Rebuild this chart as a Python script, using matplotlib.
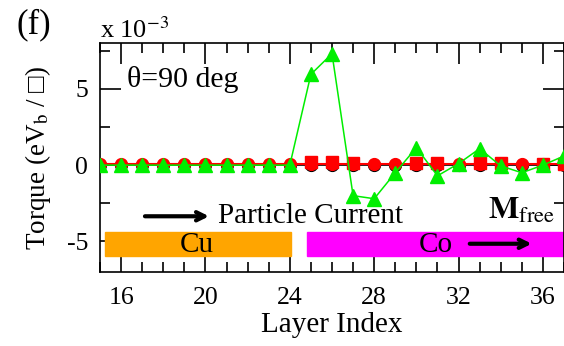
import numpy as np
import matplotlib
matplotlib.use("Agg")
import matplotlib.pyplot as plt
from matplotlib.ticker import MultipleLocator, FuncFormatter
from matplotlib.patches import Rectangle

plt.rcParams['font.family'] = ['Liberation Serif', 'DejaVu Serif']
plt.rcParams['mathtext.fontset'] = 'stix'

# layer index and torque values (x 1e-3)
layers = np.arange(15, 38)
torque_black = np.zeros(len(layers))
torque_red = np.full(len(layers), 0.1)
sq_layers = [25, 26, 27, 30, 31, 33, 34, 36, 37]
torque_red_sq = [0.2, 0.2, 0.15, 0.15, 0.15, 0.15, 0.15, 0.1, 0.1]
torque_green = [0, 0, 0, 0, 0, 0, 0, 0, 0, 0,
                5.95, 7.3, -2.0, -2.2, -0.5, 1.15, -0.7, 0.1, 1.08, -0.05, -0.5, 0.0, 0.6]

fig = plt.figure(figsize=(5.64, 3.46), dpi=100)
ax = fig.add_axes([0.1773, 0.2139, 0.8227, 0.6618])

ax.plot(layers, torque_black, color='black', marker='o', ms=8.5, lw=1.2, zorder=3)
ax.plot(layers, torque_red, color='red', marker='o', ms=8.5, lw=1.5, zorder=4)
ax.plot(sq_layers, torque_red_sq, color='red', marker='s', ms=8.5, lw=0, zorder=5)
ax.plot(layers, torque_green, color='#00ee00', marker='^', ms=9.5, lw=1.1, zorder=6)

ax.set_xlim(15, 37)
ax.set_ylim(-7, 8)
ax.xaxis.set_major_locator(MultipleLocator(4))
ax.xaxis.set_minor_locator(MultipleLocator(1))
ax.yaxis.set_major_locator(MultipleLocator(5))
ax.yaxis.set_minor_locator(MultipleLocator(2.5))
ax.yaxis.set_major_formatter(FuncFormatter(lambda v, p: '%d' % v if v >= 0 else '-%d' % -v))
ax.tick_params(which='both', direction='in', top=True, right=True, labelsize=18.5, width=1.2)
ax.tick_params(which='major', length=15)
ax.tick_params(which='minor', length=7.5)
ax.tick_params(axis='x', which='major', pad=11)
ax.tick_params(axis='y', which='major', pad=8.5)
for s in ax.spines.values():
    s.set_linewidth(1.2)

ax.set_xlabel('Layer Index', fontsize=21, labelpad=2)
ax.set_ylabel('Torque (eV$_\\mathrm{b}$ / \u25a1)', fontsize=19.5, labelpad=10)

# region bars
ax.add_patch(Rectangle((15.24, -5.95), 24.05 - 15.24, 1.55, color='#ffa500', zorder=2))
ax.add_patch(Rectangle((24.82, -5.95), 12.5, 1.55, color='#ff00ff', zorder=2))
ax.text(19.6, -5.2, 'Cu', fontsize=21, ha='center', va='center', zorder=7)
ax.text(30.9, -5.2, 'Co', fontsize=21, ha='center', va='center', zorder=7)
ax.annotate('', xy=(35.6, -5.15), xytext=(32.4, -5.15),
            arrowprops=dict(arrowstyle='->, head_length=0.6, head_width=0.3', lw=3, color='black'), zorder=7)
ax.annotate('', xy=(20.3, -3.35), xytext=(17.0, -3.35),
            arrowprops=dict(arrowstyle='->, head_length=0.6, head_width=0.3', lw=3, color='black'), zorder=7)
ax.text(20.6, -3.35, 'Particle Current', fontsize=21, ha='left', va='center')
ax.text(33.4, -3.0, '$\\mathbf{M}_{\\mathrm{free}}$', fontsize=23, ha='left', va='center')
ax.text(16.3, 5.6, '\u03b8=90 deg', fontsize=21.5, ha='left', va='center')

ax.text(0.0, 1.0, 'x 10$^{-3}$', transform=ax.transAxes, fontsize=19, ha='left', va='bottom')
fig.text(0.03, 0.975, '(f)', fontsize=25, ha='left', va='top')

fig.savefig('out.png', dpi=100)
